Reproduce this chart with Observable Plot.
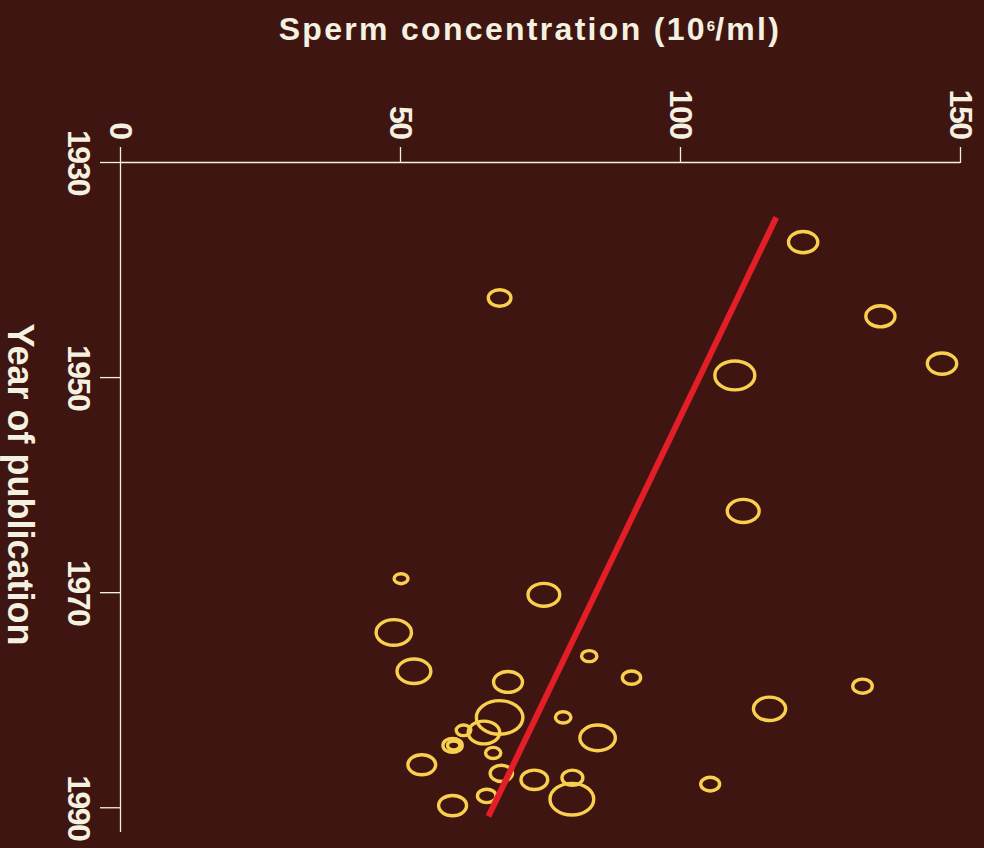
<!DOCTYPE html>
<html>
<head>
<meta charset="utf-8">
<script src="https://cdn.jsdelivr.net/npm/d3@7"></script>
<script src="https://cdn.jsdelivr.net/npm/@observablehq/plot@0.6"></script>
<style>
  html, body { margin: 0; padding: 0; background: #3e1511; }
  #wrap { position: relative; width: 984px; height: 848px; overflow: hidden; }
  #title {
    position: absolute; left: 530px; top: 13px; transform: translateX(-50%);
    white-space: nowrap; color: #f5f1e1;
    font-family: "Liberation Sans", Arial, Helvetica, sans-serif; font-weight: bold;
    font-size: 32px; line-height: 32px; letter-spacing: 2.3px;
  }
  #title sup { font-size: 15px; vertical-align: 9px; line-height: 0; letter-spacing: 0; }
  g[aria-label="x-axis tick label"] text, g[aria-label="y-axis tick label"] text { letter-spacing: -1.5px; }
</style>
</head>
<body>
<div id="wrap">
  <div id="title">Sperm concentration (10<sup>6</sup>/ml)</div>
</div>
<script>
// ---- data ----
const years = [1937.4, 1942.6, 1944.3, 1948.7, 1949.8, 1962.4, 1968.7, 1970.2, 1973.7, 1977.3,
               1975.9, 1977.9, 1978.3, 1981.6, 1983.0, 1982.8, 1984.2, 1984.2, 1984.9, 1981.6,
               1983.5, 1986.0, 1986.8, 1987.4, 1987.2, 1989.2, 1989.8, 1988.9, 1987.8, 1980.8, 1978.7];
const concentration = [121.9, 67.7, 135.7, 146.7, 109.7, 111.2, 50.1, 75.6, 48.8, 52.4,
                       83.7, 91.25, 69.2, 67.7, 64.9, 61.25, 59.3, 59.5, 66.55, 79.05,
                       85.2, 53.8, 68.0, 73.9, 80.7, 80.6, 59.3, 65.4, 105.3, 115.9, 132.5];
const sampleSize = [620, 370, 615, 625, 1156, 735, 139, 729, 906, 829,
                    169, 240, 605, 1568, 718, 154, 269, 110, 169, 174,
                    912, 557, 361, 520, 317, 1384, 566, 250, 260, 751, 276];
const trendYears = [1935.1, 1990.8];
const trendConcentration = [117.1, 65.7];
const xTicks = [0, 50, 100, 150];
const yTicks = [1930, 1950, 1970, 1990];
const yLabel = "Year of publication";

const studies = years.map((y, i) => ({year: y, conc: concentration[i], n: sampleSize[i]}));
const trend = trendYears.map((y, i) => ({year: y, conc: trendConcentration[i]}));

const BG = "#3e1511", INK = "#f5f1e1", YELLOW = "#f8cf4e", RED = "#e41e27";
const FONT = "'Liberation Sans', Arial, Helvetica, sans-serif";

// ellipse-shaped symbol (studies drawn as slightly wide ovals)
const K = 1.175;
const ellipse = {
  draw(context, size) {
    const r = Math.sqrt(size / Math.PI);
    const rx = r * K, ry = r / K, k = 0.5522847498;
    context.moveTo(rx, 0);
    context.bezierCurveTo(rx, ry * k, rx * k, ry, 0, ry);
    context.bezierCurveTo(-rx * k, ry, -rx, ry * k, -rx, 0);
    context.bezierCurveTo(-rx, -ry * k, -rx * k, -ry, 0, -ry);
    context.bezierCurveTo(rx * k, -ry, rx, -ry * k, rx, 0);
    context.closePath();
  }
};

const chart = Plot.plot({
  width: 984,
  height: 848,
  marginTop: 162,
  marginLeft: 120,
  marginRight: 24,
  marginBottom: 16,
  style: {background: BG, color: INK, fontFamily: FONT, fontWeight: "bold", overflow: "visible"},
  x: {domain: [0, 150], axis: null},
  y: {domain: [1930, 1992.3], reverse: true, axis: null},
  r: {type: "sqrt", domain: [0, 1600], range: [0, 20]},
  marks: [
    Plot.axisX(xTicks, {anchor: "top", tickSize: 16, tickPadding: 8, tickRotate: 90, label: null,
      fontSize: 32, fontWeight: "bold", stroke: INK, fill: INK, strokeWidth: 1.3}),
    Plot.axisY(yTicks, {anchor: "left", tickSize: 20, tickPadding: 10, tickRotate: 90, label: null,
      tickFormat: "d", fontSize: 32, fontWeight: "bold", stroke: INK, fill: INK, strokeWidth: 1.3}),
    Plot.ruleY([1930], {stroke: INK, strokeWidth: 1.3}),
    Plot.ruleX([0], {stroke: INK, strokeWidth: 1.3}),
    Plot.text([yLabel], {frameAnchor: "left", textAnchor: "middle", rotate: 90, dx: -101, dy: -13,
      fontSize: 36, fontWeight: "bold", fill: INK}),
    Plot.dot(studies, {x: "conc", y: "year", r: "n", symbol: ellipse,
      stroke: YELLOW, strokeWidth: 3.4, fill: "none"}),
    Plot.line(trend, {x: "conc", y: "year", stroke: RED, strokeWidth: 6, strokeLinecap: "butt"})
  ]
});
document.getElementById("wrap").prepend(chart);
chart.style.position = "absolute";
chart.style.left = "0";
chart.style.top = "0";
</script>
</body>
</html>
